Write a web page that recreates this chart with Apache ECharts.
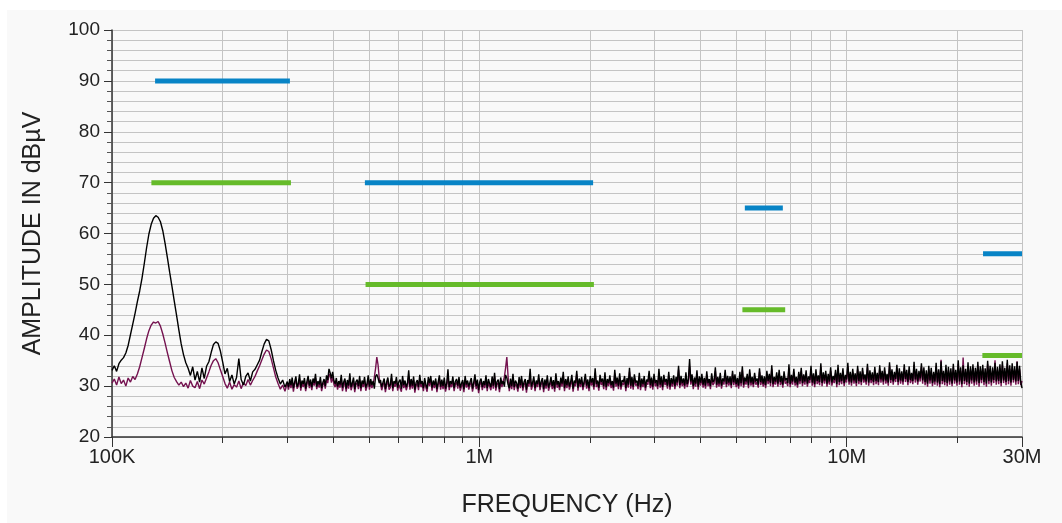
<!DOCTYPE html>
<html>
<head>
<meta charset="utf-8">
<title>Conducted emissions</title>
<script src="https://cdn.jsdelivr.net/npm/echarts@6.0.0/dist/echarts.min.js"></script>
<style>
  html, body { margin: 0; padding: 0; background: #ffffff; }
  #chart {
    position: absolute;
    left: 7px;
    top: 10px;
    width: 1055px;
    height: 513px;
    background: #f9f9f9;
  }
</style>
</head>
<body>
<div id="chart"></div>
<script>
// two sweep bands, points equally spaced on the log axis inside each band
const lowBand = [100e3, 300e3];
const highBand = [300e3, 30e6];

// peak detector trace (black), dBuV, 100 kHz - 300 kHz
const peakDbLow = [
  33.1, 34.0, 32.9, 34.4, 35.1, 35.6, 36.5, 38.0, 40.1, 42.2,
  44.3, 46.6, 48.7, 51.2, 54.1, 57.2, 59.9, 61.8, 63.0, 63.5,
  63.2, 62.3, 60.6, 58.1, 55.3, 52.4, 49.6, 46.7, 43.9, 41.0,
  38.3, 36.2, 34.6, 33.5, 32.1, 33.8, 31.2, 32.9, 30.8, 33.6,
  31.5, 33.9, 34.8, 36.6, 38.2, 38.7, 38.4, 36.9, 34.7, 32.4,
  33.5, 30.9, 32.2, 30.4, 31.7, 35.4, 31.3, 30.2, 31.9, 32.6,
  31.0, 32.8, 33.3, 34.2, 35.1, 36.8, 38.3, 39.2, 38.9, 37.2,
  35.0, 33.1, 31.6, 30.4, 31.2, 29.8, 30.9
];

// peak detector trace (black), dBuV, 300 kHz - 30 MHz
const peakDbHigh = [
  30.9, 29.8, 31.4, 30.2, 31.7, 29.6, 30.8, 31.9, 29.9, 30.5, 32.3, 29.7, 31.1, 30.4, 31.6, 29.5, 30.9, 32.0, 30.1, 31.3,
  29.8, 31.5, 30.6, 32.4, 29.9, 31.0, 30.3, 31.8, 29.6, 30.7, 31.4, 30.0, 32.1, 31.2, 33.4, 32.6, 31.5, 32.8, 31.1, 30.4,
  31.6, 29.9, 31.0, 30.3, 32.2, 29.7, 30.8, 31.5, 29.5, 31.2, 30.1, 32.5, 29.8, 30.6, 31.7, 29.4, 30.9, 31.3, 30.0, 32.0,
  29.6, 31.1, 30.4, 31.8, 29.7, 30.5, 32.1, 29.9, 31.4, 30.2, 31.0, 29.5, 31.9, 32.3, 31.6, 30.6, 31.2, 29.8, 30.7, 31.5,
  29.4, 30.8, 31.7, 29.9, 30.3, 32.4, 29.6, 31.0, 30.5, 31.8, 29.7, 30.9, 31.3, 29.5, 32.0, 30.2, 31.1, 29.8, 30.6, 33.1,
  29.9, 31.4, 30.1, 31.9, 29.3, 30.7, 31.2, 29.8, 32.2, 30.4, 31.0, 29.6, 31.6, 30.3, 29.5, 31.8, 30.6, 32.0, 29.7, 31.1,
  30.2, 31.5, 29.4, 30.8, 32.1, 29.9, 31.3, 30.0, 31.7, 29.5, 30.6, 33.3, 29.8, 31.0, 30.4, 31.9, 29.6, 30.9, 31.4, 30.1,
  31.8, 29.7, 30.5, 31.2, 29.4, 32.0, 30.3, 31.1, 29.9, 30.8, 31.6, 29.5, 30.7, 32.3, 30.0, 31.3, 29.2, 30.9, 31.5, 29.8,
  31.0, 30.2, 32.1, 29.6, 31.4, 30.5, 29.8, 31.9, 30.1, 32.6, 29.7, 30.9, 31.3, 29.4, 31.7, 30.4, 31.0, 29.9, 32.2, 31.6,
  30.3, 29.6, 31.5, 30.0, 32.4, 29.8, 31.1, 30.6, 29.5, 31.8, 30.2, 32.0, 29.7, 30.8, 31.4, 29.3, 31.2, 30.5, 33.4, 29.9,
  30.7, 31.9, 29.6, 31.1, 30.4, 32.3, 29.8, 30.9, 31.6, 29.4, 31.3, 30.1, 32.1, 29.7, 30.6, 31.8, 30.0, 31.2, 29.5, 32.5,
  30.3, 31.0, 29.8, 31.7, 30.5, 32.8, 29.6, 31.4, 30.2, 31.9, 29.9, 30.8, 32.2, 29.5, 31.1, 30.6, 33.0, 29.7, 31.5, 30.4,
  31.8, 29.8, 30.9, 32.4, 30.1, 31.3, 29.6, 32.0, 30.7, 31.6, 29.9, 33.5, 30.4, 31.1, 29.7, 32.2, 30.8, 31.5, 30.0, 32.7,
  29.8, 31.4, 30.6, 32.1, 30.2, 31.0, 29.7, 33.2, 30.5, 31.7, 30.0, 32.5, 29.9, 31.2, 30.8, 32.0, 29.6, 31.6, 30.3, 33.6,
  30.1, 31.8, 29.9, 32.3, 30.7, 31.1, 30.0, 32.6, 29.8, 31.5, 30.4, 32.0, 29.7, 31.3, 30.9, 33.0, 30.2, 31.7, 29.9, 32.4,
  30.6, 31.2, 30.0, 33.4, 30.3, 31.9, 29.8, 32.2, 30.8, 31.4, 30.1, 32.8, 29.9, 31.6, 30.5, 32.1, 30.0, 31.8, 30.7, 34.0,
  30.2, 32.0, 30.6, 31.5, 30.1, 32.7, 30.4, 31.3, 35.3, 30.9, 32.3, 30.0, 31.7, 30.5, 33.1, 29.9, 31.9, 30.7, 32.4, 30.3,
  31.6, 30.1, 32.9, 30.6, 31.4, 30.0, 32.5, 30.8, 31.2, 33.7, 30.3, 31.8, 30.5, 32.6, 30.1, 31.5, 30.9, 33.2, 30.4, 32.0,
  30.7, 31.9, 30.2, 33.0, 30.8, 32.3, 30.4, 31.6, 30.1, 32.8, 30.6, 33.9, 30.3, 31.7, 30.9, 32.4, 30.2, 33.3, 30.7, 31.8,
  30.4, 32.6, 30.9, 31.5, 30.3, 33.5, 30.8, 32.1, 30.5, 31.9, 30.2, 33.0, 31.0, 32.4, 30.6, 34.1, 30.4, 31.8, 30.9, 32.7,
  30.5, 33.2, 30.8, 32.0, 30.3, 32.9, 31.1, 31.6, 30.6, 34.3, 30.4, 32.2, 30.9, 33.4, 30.7, 31.8, 30.3, 32.8, 31.0, 33.6,
  30.6, 32.3, 30.9, 33.1, 30.5, 31.9, 31.2, 34.0, 30.7, 32.5, 30.4, 33.3, 31.0, 32.1, 30.8, 34.5, 30.6, 32.7, 31.1, 33.0,
  30.5, 32.4, 30.9, 33.7, 30.7, 32.0, 31.2, 33.2, 30.4, 34.2, 30.8, 32.6, 31.0, 33.5, 30.6, 32.2, 31.3, 34.6, 30.9, 32.8,
  30.7, 33.4, 31.1, 32.5, 30.6, 34.0, 31.0, 32.9, 30.8, 33.6, 31.3, 32.3, 30.9, 34.4, 30.7, 33.1, 31.2, 32.7, 30.8, 33.8,
  31.0, 32.6, 30.8, 34.1, 31.3, 33.0, 30.9, 33.7, 31.1, 32.4, 30.7, 34.7, 31.2, 33.3, 30.9, 32.8, 31.4, 34.2, 30.8, 33.5,
  31.1, 32.9, 30.9, 34.3, 31.4, 33.2, 30.8, 33.9, 31.2, 32.6, 31.0, 34.8, 31.3, 33.4, 30.9, 33.0, 31.5, 34.5, 31.1, 33.7,
  30.8, 33.1, 30.5, 34.0, 31.1, 33.6, 30.6, 32.8, 30.9, 34.6, 30.7, 33.3, 30.4, 34.9, 31.0, 33.0, 30.8, 34.2, 30.6, 33.8,
  30.9, 33.5, 30.5, 34.4, 31.1, 33.2, 30.7, 35.1, 30.9, 33.7, 30.4, 34.1, 31.0, 33.4, 30.8, 34.7, 30.5, 33.9, 31.1, 34.3,
  30.7, 33.6, 30.9, 34.8, 30.6, 33.9, 31.2, 34.2, 30.8, 33.5, 30.5, 35.0, 31.0, 34.0, 30.7, 33.7, 31.2, 34.6, 30.9, 33.8,
  31.0, 34.3, 30.6, 34.9, 31.1, 33.6, 30.8, 35.2, 31.0, 34.1, 30.7, 34.5, 31.2, 33.9, 30.9, 34.8, 31.0, 34.0, 30.8, 29.6
];

// average detector trace (purple), dBuV, 100 kHz - 300 kHz
const avgDbLow = [
  30.6, 31.4, 30.2, 31.8, 30.5, 31.2, 30.0, 31.6, 30.8, 31.9,
  31.3, 32.4, 33.8, 35.6, 37.4, 39.3, 40.9, 42.0, 42.6, 42.4,
  42.7, 41.8, 40.3, 38.5, 36.6, 34.8, 33.0, 31.7, 30.9, 30.2,
  30.8, 29.9, 30.6, 29.6, 31.1, 30.0, 29.7, 30.9, 29.5, 31.2,
  30.4, 31.6, 32.8, 34.1, 35.0, 35.4, 34.6, 33.2, 31.9, 30.5,
  29.6, 30.8, 29.4, 30.3, 29.8, 31.0, 29.5, 30.7, 30.1, 31.3,
  30.2, 31.1, 31.9, 33.0, 34.0, 35.2, 36.3, 37.1, 36.8, 35.4,
  33.6, 31.8, 30.5, 29.4, 30.2, 29.0, 30.6
];

// average detector trace (purple), dBuV, 300 kHz - 30 MHz
const avgDbHigh = [
  30.2, 29.3, 30.8, 29.6, 31.0, 28.9, 30.4, 31.2, 29.5, 30.0, 31.5, 29.1, 30.6, 29.8, 30.9, 29.0, 30.3, 31.4, 29.6, 30.7,
  29.2, 30.9, 30.1, 31.6, 29.4, 30.5, 29.7, 31.1, 29.0, 30.2, 30.8, 29.5, 31.3, 30.6, 32.4, 31.9, 30.7, 31.8, 30.4, 29.8,
  30.9, 29.3, 30.4, 29.7, 31.5, 29.0, 30.1, 30.8, 28.9, 30.6, 29.5, 31.7, 29.2, 30.0, 31.0, 28.8, 30.3, 30.7, 29.4, 31.3,
  29.0, 30.5, 29.8, 31.1, 29.1, 29.9, 31.4, 29.3, 30.7, 29.6, 30.4, 31.8, 33.5, 35.7, 34.2, 31.5, 30.5, 29.2, 30.1, 30.8,
  28.8, 30.2, 31.0, 29.3, 29.7, 31.6, 29.0, 30.4, 29.9, 31.1, 29.1, 30.3, 30.6, 28.9, 31.2, 29.6, 30.5, 29.2, 30.0, 32.0,
  29.3, 30.8, 29.5, 31.2, 28.7, 30.1, 30.6, 29.2, 31.5, 29.8, 30.4, 29.0, 30.9, 29.7, 28.9, 31.1, 30.0, 31.3, 29.1, 30.5,
  29.6, 30.9, 28.8, 30.2, 31.4, 29.3, 30.7, 29.4, 31.0, 28.9, 30.0, 32.0, 29.2, 30.4, 29.8, 31.2, 29.0, 30.3, 30.8, 29.5,
  31.1, 29.1, 29.9, 30.6, 28.8, 31.3, 29.7, 30.5, 29.3, 30.2, 30.9, 28.9, 30.1, 31.6, 29.4, 30.7, 28.6, 30.3, 30.9, 29.2,
  30.4, 29.6, 31.4, 29.0, 30.8, 29.9, 29.2, 31.2, 29.5, 31.9, 29.1, 30.3, 30.7, 28.8, 31.0, 29.8, 30.9, 31.8, 33.6, 35.7,
  32.0, 29.0, 30.8, 29.4, 31.7, 29.2, 30.5, 30.0, 28.9, 31.1, 29.6, 31.3, 29.1, 30.2, 30.8, 28.7, 30.6, 29.9, 32.1, 29.3,
  30.1, 31.2, 29.0, 30.5, 29.8, 31.6, 29.2, 30.3, 31.0, 28.8, 30.7, 29.5, 31.4, 29.1, 30.0, 31.1, 29.4, 30.6, 28.9, 31.8,
  29.7, 30.4, 29.2, 31.0, 29.9, 32.1, 29.0, 30.8, 29.6, 31.2, 29.3, 30.2, 31.5, 28.9, 30.5, 30.0, 32.3, 29.1, 30.9, 29.8,
  31.1, 29.2, 30.3, 31.7, 29.5, 30.7, 29.0, 31.3, 30.1, 30.9, 29.3, 32.6, 29.8, 30.5, 29.1, 31.5, 30.2, 30.8, 29.4, 32.0,
  29.2, 30.8, 30.0, 31.4, 29.6, 30.4, 29.1, 32.5, 29.9, 31.0, 29.4, 31.8, 29.3, 30.6, 30.2, 31.3, 29.0, 30.9, 29.7, 32.8,
  29.5, 31.1, 29.3, 31.6, 30.1, 30.5, 29.4, 31.9, 29.2, 30.8, 29.8, 31.3, 29.1, 30.7, 30.3, 32.2, 29.6, 31.0, 29.3, 31.7,
  30.0, 30.6, 29.4, 32.6, 29.7, 31.2, 29.2, 31.5, 30.2, 30.8, 29.5, 32.1, 29.3, 30.9, 29.9, 31.4, 29.4, 31.1, 30.1, 33.2,
  29.6, 31.3, 30.0, 30.9, 29.5, 32.0, 29.8, 30.7, 33.9, 30.3, 31.6, 29.4, 31.0, 29.9, 32.4, 29.3, 31.2, 30.1, 31.7, 29.7,
  31.0, 29.5, 32.2, 30.0, 30.8, 29.4, 31.8, 30.2, 30.6, 33.0, 29.7, 31.1, 29.9, 31.9, 29.5, 30.9, 30.3, 32.5, 29.8, 31.3,
  30.1, 31.2, 29.6, 32.3, 30.2, 31.6, 29.8, 30.9, 29.5, 32.1, 30.0, 33.2, 29.7, 31.0, 30.3, 31.7, 29.6, 32.6, 30.1, 31.1,
  29.8, 31.9, 30.3, 30.8, 29.7, 32.8, 30.2, 31.4, 29.9, 31.2, 29.6, 32.3, 30.4, 31.7, 30.0, 33.4, 29.8, 31.1, 30.3, 32.0,
  29.9, 32.5, 30.2, 31.3, 29.7, 32.2, 30.5, 30.9, 30.0, 33.6, 29.8, 31.5, 30.3, 32.7, 30.1, 31.1, 29.7, 32.1, 30.4, 32.9,
  30.0, 31.6, 30.3, 32.4, 29.9, 31.2, 30.6, 33.3, 30.1, 31.8, 29.8, 32.6, 30.4, 31.4, 30.2, 33.8, 30.0, 32.0, 30.5, 32.3,
  29.9, 31.7, 30.3, 33.0, 30.1, 31.3, 30.6, 32.5, 29.8, 33.5, 30.2, 31.9, 30.4, 32.8, 30.0, 31.5, 30.7, 33.9, 30.3, 32.1,
  30.1, 32.7, 30.5, 31.8, 30.0, 33.3, 30.4, 32.2, 30.2, 32.9, 30.7, 31.6, 30.3, 33.7, 30.1, 32.4, 30.6, 32.0, 30.2, 33.1,
  30.4, 31.9, 30.2, 33.4, 30.7, 32.3, 30.3, 33.0, 30.5, 31.7, 30.1, 34.0, 30.6, 32.6, 30.3, 32.1, 30.8, 33.5, 30.2, 32.8,
  30.5, 32.2, 30.3, 33.6, 30.8, 32.5, 30.2, 33.2, 30.6, 31.9, 30.4, 34.1, 30.7, 32.7, 30.3, 32.3, 30.9, 33.8, 30.5, 33.0,
  30.2, 32.4, 29.9, 33.3, 30.5, 32.9, 30.0, 32.1, 30.3, 33.9, 30.1, 32.6, 29.8, 35.2, 30.4, 32.3, 30.2, 33.5, 30.0, 33.1,
  30.3, 32.8, 30.0, 33.7, 30.5, 32.5, 30.1, 34.4, 30.3, 33.0, 29.8, 35.6, 30.4, 32.7, 30.2, 34.0, 29.9, 33.2, 30.5, 33.6,
  30.1, 32.9, 30.3, 34.1, 29.9, 33.2, 30.6, 33.5, 30.2, 32.8, 29.9, 34.3, 30.4, 33.3, 30.1, 33.0, 30.6, 35.1, 30.3, 33.1,
  30.4, 33.6, 30.0, 34.2, 30.6, 32.9, 30.2, 34.5, 30.4, 33.4, 30.1, 33.8, 30.7, 33.2, 30.3, 34.9, 30.4, 33.3, 30.2, 31.0
];

// limit lines (blue = peak class limit, green = average class limit)
const peakLimitStart = [131e3, 488e3, 5.28e6, 23.5e6];
const peakLimitStop = [305e3, 2.04e6, 6.7e6, 30e6];
const peakLimitDb = [90, 70, 65, 56];
const avgLimitStart = [128e3, 490e3, 5.2e6, 23.4e6];
const avgLimitStop = [307e3, 2.05e6, 6.8e6, 30e6];
const avgLimitDb = [70, 50, 45, 36];

// x grid lines / ticks and labelled ticks
const freqGrid = [
  1e5, 2e5, 3e5, 4e5, 5e5, 6e5, 7e5, 8e5, 9e5,
  1e6, 2e6, 3e6, 4e6, 5e6, 6e6, 7e6, 8e6, 9e6,
  1e7, 2e7, 3e7
];
const freqLabels = [1e5, 1e6, 1e7, 3e7];

const FONT = "'Liberation Sans', Arial, sans-serif";

// frequency of point i out of n inside a band
function bandFreq(band, i, n) {
  return band[0] * Math.pow(band[1] / band[0], i / (n - 1));
}

function toPoints(low, high) {
  const a = low.map((v, i) => [bandFreq(lowBand, i, low.length), v]);
  const b = high.map((v, i) => [bandFreq(highBand, i, high.length), v]);
  return a.concat(b.slice(1));
}

function limitSeries(starts, stops, levels, color) {
  return starts.map((s, k) => ({
    type: "line",
    data: [[s, levels[k]], [stops[k], levels[k]]],
    showSymbol: false,
    silent: true,
    z: 5,
    lineStyle: { color: color, width: 5, cap: "butt" },
  }));
}

function freqText(v) {
  if (v >= 1e6) return Math.round(v / 1e6) + "M";
  return Math.round(v / 1e3) + "K";
}

const chart = echarts.init(document.getElementById("chart"), null, { renderer: "canvas" });

const gridColor = "#c4c4c4";

const option = {
  animation: false,
  backgroundColor: "#f9f9f9",
  grid: { left: 105, right: 40, top: 20, bottom: 86 },
  xAxis: [
    {
      type: "log",
      logBase: 10,
      min: lowBand[0],
      max: highBand[1],
      name: "FREQUENCY (Hz)",
      nameLocation: "middle",
      nameGap: 56,
      nameTextStyle: { fontFamily: FONT, fontSize: 25, color: "#222" },
      axisLine: { show: true, onZero: false, lineStyle: { color: "#333", width: 1.5 } },
      axisTick: { show: true, length: 6, customValues: freqGrid, lineStyle: { color: "#333" } },
      axisLabel: {
        customValues: freqLabels,
        formatter: freqText,
        fontFamily: FONT,
        fontSize: 20,
        color: "#222",
        margin: 10,
        showMinLabel: true,
        showMaxLabel: true,
      },
      splitLine: { show: true, lineStyle: { color: gridColor, width: 1 } },
    },
    {
      // longer ticks on the decades
      type: "log",
      logBase: 10,
      min: lowBand[0],
      max: highBand[1],
      position: "bottom",
      axisLine: { show: false },
      axisTick: { show: true, length: 10, customValues: freqLabels, lineStyle: { color: "#333" } },
      axisLabel: { show: false },
      splitLine: { show: false },
    },
  ],
  yAxis: {
    type: "value",
    min: 20,
    max: 100,
    interval: 10,
    name: "AMPLITUDE IN dBµV",
    nameLocation: "middle",
    nameGap: 66,
    nameTextStyle: { fontFamily: FONT, fontSize: 25, color: "#222" },
    axisLine: { show: true, lineStyle: { color: "#333", width: 1.5 } },
    axisTick: { show: true, length: 8, lineStyle: { color: "#333" } },
    minorTick: { show: true, splitNumber: 5, length: 5, lineStyle: { color: "#555" } },
    axisLabel: { fontFamily: FONT, fontSize: 19, color: "#222", margin: 12 },
    splitLine: { show: true, lineStyle: { color: gridColor, width: 1 } },
    minorSplitLine: { show: true, lineStyle: { color: gridColor, width: 1 } },
  },
  series: [
    {
      name: "average",
      type: "line",
      data: toPoints(avgDbLow, avgDbHigh),
      showSymbol: false,
      z: 3,
      lineStyle: { color: "#74124f", width: 1.4 },
    },
    {
      name: "peak",
      type: "line",
      data: toPoints(peakDbLow, peakDbHigh),
      showSymbol: false,
      z: 4,
      lineStyle: { color: "#000000", width: 1.4 },
    },
  ]
    .concat(limitSeries(peakLimitStart, peakLimitStop, peakLimitDb, "#0884c6"))
    .concat(limitSeries(avgLimitStart, avgLimitStop, avgLimitDb, "#66bb2a")),
};

chart.setOption(option);
</script>
</body>
</html>
